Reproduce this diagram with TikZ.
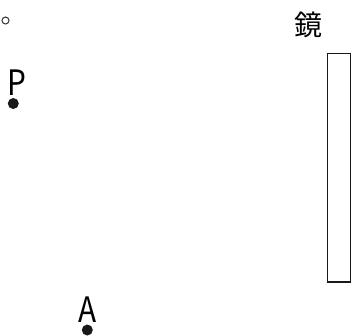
\documentclass[tikz,border=0pt]{standalone}
\usepackage{fontspec}
\setmainfont{Noto Sans CJK JP}
\begin{document}
\begin{tikzpicture}[x=1pt,y=-1pt,
  lbl/.style={inner sep=0pt, font=\fontsize{35}{35}\selectfont, xscale=0.85},
  dotnode/.style={circle, fill=black!90, inner sep=0pt, minimum size=11pt},
  mirror/.style={draw=black!90, line width=1.8pt}]
\useasboundingbox (0,0) rectangle (352,335);
\node[circle, draw=black!80, line width=1pt, inner sep=0pt, minimum size=7pt] (o) at (5.5,20.5) {};
\node[lbl, anchor=base] (P) at (17,95.5) {P};
\node[dotnode] (pdot) at (13.3,103.5) {};
\node[lbl, anchor=base] (A) at (88,322) {A};
\node[dotnode] (adot) at (87.3,330) {};
\node[inner sep=0pt, font=\fontsize{28}{28}\selectfont] (kagami) at (308.5,25) {鏡};
\draw[mirror] (327.5,53.5) rectangle (350.5,282);
\end{tikzpicture}
\end{document}
